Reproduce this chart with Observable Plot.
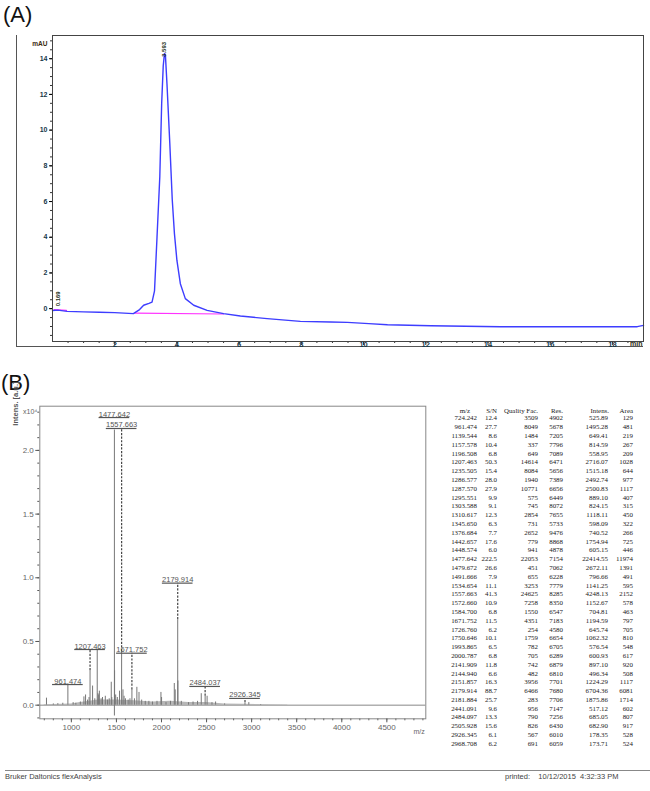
<!DOCTYPE html>
<html>
<head>
<meta charset="utf-8">
<script src="https://cdn.jsdelivr.net/npm/d3@7"></script>
<script src="https://cdn.jsdelivr.net/npm/@observablehq/plot@0.6"></script>
<style>
  html, body { margin: 0; padding: 0; background: #fff; }
  #page { position: relative; width: 650px; height: 791px; overflow: hidden; font-family: "Liberation Sans", Arial, sans-serif; }
  .abs { position: absolute; }
  .panel { font-size: 22px; color: #111; line-height: 1; }
  .tcol { position: absolute; font-family: "Liberation Serif", "Times New Roman", serif; font-size: 6.9px; color: #222; text-align: right; white-space: nowrap; }
  .foot { font-size: 7.5px; color: #444; white-space: nowrap; }
</style>
</head>
<body>
<div id="page"></div>
<script>
// ---------- Panel A: HPLC chromatogram ----------
const chromTime = [0, 0.17, 0.47, 1.0, 1.5, 2.0, 2.6, 2.8, 2.93, 3.1, 3.2, 3.28, 3.36, 3.45, 3.51, 3.56, 3.6, 3.63, 3.68, 3.77, 3.85, 3.92, 4.0, 4.11, 4.27, 4.54, 4.97, 5.5, 6.04, 6.9, 7.97, 8.94, 9.48, 10.17, 10.77, 12.16, 14.4, 16.0, 18.8, 19.0];
const chromAbs  = [-0.1, -0.08, -0.15, -0.18, -0.2, -0.22, -0.28, -0.05, 0.19, 0.3, 0.37, 1.0, 4.0, 7.4, 11.5, 13.6, 14.3, 14.2, 12.6, 9.3, 6.1, 4.2, 2.7, 1.4, 0.56, 0.19, -0.1, -0.28, -0.41, -0.56, -0.71, -0.75, -0.77, -0.84, -0.9, -0.96, -1.01, -1.01, -1.01, -0.94];
const baseTime = [2.65, 5.5];
const baseAbs  = [-0.25, -0.3];
const base0Time = [0.05, 0.45];
const base0Abs  = [-0.05, -0.1];
const peakTimesA = [0.169, 3.593];
const peakLabelsA = ["0.169", "3.593"];
const peakLabelAbs = [0.13, 14.1];
const yTicksA = [0, 2, 4, 6, 8, 10, 12, 14];
const xTicksA = [2, 4, 6, 8, 10, 12, 14, 16, 18];

// ---------- Panel B: MALDI spectrum ----------
const specMz = [724, 800, 850, 905, 961.5, 1020, 1050, 1100, 1139.5, 1157.6, 1180, 1196.5, 1207.5, 1235.5, 1260, 1287, 1295.6, 1303.6, 1310.6, 1330, 1345.7, 1376.7, 1400, 1420, 1442.7, 1448.6, 1477.6, 1479.7, 1491.7, 1510, 1534.7, 1557.7, 1572.7, 1584.7, 1600, 1630, 1650, 1671.8, 1700, 1726.8, 1750.6, 1780, 1820, 1860, 1900, 1950, 1993.9, 2000.8, 2050, 2100, 2141.9, 2151.9, 2179.9, 2181.9, 2220, 2300, 2350, 2400, 2441.1, 2484.1, 2505.9, 2560, 2600, 2700, 2926.3, 2968.7, 3100];
const specInt = [0.055, 0.01, 0.012, 0.015, 0.155, 0.02, 0.015, 0.025, 0.065, 0.08, 0.04, 0.06, 0.27, 0.15, 0.05, 0.44, 0.09, 0.08, 0.11, 0.05, 0.06, 0.07, 0.04, 0.05, 0.18, 0.06, 2.16, 0.27, 0.08, 0.06, 0.11, 0.42, 0.12, 0.07, 0.05, 0.04, 0.05, 0.12, 0.05, 0.14, 0.10, 0.04, 0.03, 0.03, 0.025, 0.03, 0.10, 0.06, 0.02, 0.03, 0.17, 0.12, 0.67, 0.19, 0.03, 0.02, 0.025, 0.03, 0.09, 0.07, 0.07, 0.02, 0.025, 0.01, 0.02, 0.02, 0.005];
const floorMz  = [700, 1000, 1100, 1200, 1300, 1500, 1700, 1900, 2100, 2300, 2500, 2700, 2900, 3200, 3400];
const floorInt = [0.004, 0.01, 0.02, 0.03, 0.04, 0.04, 0.035, 0.025, 0.03, 0.02, 0.02, 0.01, 0.008, 0.003, 0.002];
const dipMz = [1477.6];
const dipInt = [-0.085];
const labelMz   = [961.474, 1207.463, 1477.642, 1557.663, 1671.752, 2179.914, 2484.037, 2926.345];
const labelText = ["961.474", "1207.463", "1477.642", "1557.663", "1671.752", "2179.914", "2484.037", "2926.345"];
const labelLevel = [0.162, 0.437, 2.258, 2.172, 0.408, 0.958, 0.147, 0.053];
const labelPeakTop = [0.155, 0.27, 2.258, 0.42, 0.12, 0.67, 0.07, 0.02];
const yTicksB = [0, 0.5, 1.0, 1.5, 2.0];
const xTicksB = [1000, 1500, 2000, 2500, 3000, 3500, 4000, 4500];

// ---------- Peak table ----------
const tblMz = ["724.242","961.474","1139.544","1157.578","1196.508","1207.463","1235.505","1286.577","1287.570","1295.551","1303.588","1310.617","1345.650","1376.684","1442.657","1448.574","1477.642","1479.672","1491.666","1534.654","1557.663","1572.660","1584.700","1671.752","1726.760","1750.646","1993.865","2000.787","2141.909","2144.940","2151.857","2179.914","2181.884","2441.091","2484.097","2505.928","2926.345","2968.708"];
const tblSN = ["12.4","27.7","8.6","10.4","6.8","50.3","15.4","28.0","27.9","9.9","9.1","12.3","6.3","7.7","17.6","6.0","222.5","26.6","7.9","11.1","41.3","10.9","6.8","11.5","6.2","10.1","6.5","6.8","11.8","6.6","16.3","88.7","25.7","9.6","13.3","15.6","6.1","6.2"];
const tblQF = ["3509","8049","1484","337","649","14614","8084","1940","10771","575","745","2854","731","2652","779","941","22053","451","655","3253","24625","7258","1550","4351","254","1759","782","705","742","482","3956","6466","283","956","790","826","567","691"];
const tblRes = ["4902","5678","7205","7796","7089","6471","5656","7389","6656","6449","8072","7655","5733","9476","8868","4878","7154","7062","6228","7779","8285","8350","6547","7183","4580","6654","6705","6289","6879","6810","7701","7680","7706","7147","7256","6430","6010","6059"];
const tblInt = ["525.89","1495.28","649.41","814.59","558.95","2716.07","1515.18","2492.74","2500.83","889.10","824.15","1118.11","598.09","740.52","1754.94","605.15","22414.55","2672.11","796.66","1141.25","4248.13","1152.67","704.81","1194.59","645.74","1062.32","576.54","600.93","897.10","496.34","1224.29","6704.36","1875.86","517.12","685.05","682.90","178.35","173.71"];
const tblArea = ["129","481","219","267","209","1028","644","977","1117","407","315","450","322","266","725","446","11974","1391","491","595","2152","578","463","797","705","810","548","617","920","508","1117","6081","1714","602","807","917","528","524"];
const tblHeaders = ["m/z", "S/N", "Quality Fac.", "Res.", "Intens.", "Area"];

const page = document.getElementById("page");
function addDiv(cls, html, style) {
  const d = document.createElement("div");
  d.className = cls; d.innerHTML = html;
  Object.assign(d.style, style);
  page.appendChild(d);
  return d;
}

// Panel letters
addDiv("abs panel", "(A)", {left: "3px", top: "4px"});
addDiv("abs panel", "(B)", {left: "1px", top: "372px"});

// ----- Plot A -----
const chromData = chromTime.map((t, i) => ({t, a: chromAbs[i]}));
const baseData = baseTime.map((t, i) => ({t, a: baseAbs[i]}));
const base0Data = base0Time.map((t, i) => ({t, a: base0Abs[i]}));
const peakA = peakTimesA.map((t, i) => ({t, label: peakLabelsA[i], a: peakLabelAbs[i]}));
const tickFill = "#173848";

const plotA = Plot.plot({
  width: 627, height: 312,
  marginLeft: 36, marginRight: 0, marginTop: 0, marginBottom: 6,
  x: {domain: [0, 19], label: null},
  y: {domain: [-1.84, 15.3], label: null},
  style: {overflow: "visible", background: "transparent", fontFamily: "Liberation Sans, Arial, sans-serif"},
  marks: [
    Plot.axisY({ticks: d3.range(-1.5, 15.01, 0.5), tickSize: 2, text: null, stroke: "#333", label: null}),
    Plot.axisY({ticks: yTicksA, tickSize: 3, tickPadding: 2, fontSize: 7, fontWeight: "bold", fill: tickFill, label: null, tickFormat: d => String(d)}),
    Plot.axisX({ticks: d3.range(0.5, 19, 0.5), tickSize: 2, text: null, stroke: "#333", label: null}),
    Plot.axisX({ticks: xTicksA, tickSize: 4, text: null, stroke: "#333", label: null}),
    Plot.axisX({ticks: xTicksA, tickSize: 0, tickPadding: 0.5, fontSize: 7.5, fontWeight: "bold", fill: tickFill, label: null, tickFormat: d => String(d)}),
    Plot.line(base0Data, {x: "t", y: "a", stroke: "#ff33ff", strokeWidth: 1.2}),
    Plot.line(baseData, {x: "t", y: "a", stroke: "#ff33ff", strokeWidth: 1.2}),
    Plot.line(chromData, {x: "t", y: "a", stroke: "#3d3dff", strokeWidth: 1.4}),
    Plot.text(peakA, {x: "t", y: "a", text: "label", rotate: -90, textAnchor: "start", fontSize: 6, fontWeight: "bold", fill: "#243018"}),
    Plot.text(["mAU"], {frameAnchor: "top-left", dx: -5, dy: 6, textAnchor: "end", fontSize: 6.5, fontWeight: "bold", fill: "#3a2a10"}),
    Plot.text(["min"], {frameAnchor: "bottom-right", dx: -1, dy: 4.5, textAnchor: "end", fontSize: 7, fontWeight: "bold", fill: "#2a2a10"}),
    Plot.frame({stroke: "#444", strokeWidth: 1})
  ]
});
const wrapA = addDiv("abs", "", {left: "16px", top: "35px", width: "627px", height: "312px", boxSizing: "border-box", borderLeft: "1.5px solid #555", borderBottom: "1.5px solid #555"});
const holdA = addDiv("abs", "", {left: "16px", top: "35px"});
holdA.appendChild(plotA);

// ----- Plot B -----
const spec = specMz.map((m, i) => ({m, h: specInt[i]}));
const floor = floorMz.map((m, i) => ({m, h: floorInt[i]}));
const dips = dipMz.map((m, i) => ({m, h: dipInt[i]}));
const labs = labelMz.map((m, i) => ({m, text: labelText[i], y: labelLevel[i], top: labelPeakTop[i]}));
const leaders = labs.filter(d => d.y - d.top > 0.02);
const grey = "#777";

const plotB = Plot.plot({
  width: 427, height: 340,
  marginLeft: 39.3, marginRight: 1.7, marginTop: 5.7, marginBottom: 21.7,
  x: {domain: [650, 4932], label: null},
  y: {domain: [-0.107, 2.347], label: null},
  style: {overflow: "visible", background: "transparent", fontFamily: "Liberation Sans, Arial, sans-serif"},
  marks: [
    Plot.axisY({ticks: d3.range(-0.1, 2.31, 0.1), tickSize: 2, text: null, stroke: "#555", label: null}),
    Plot.axisY({ticks: yTicksB, tickSize: 4, tickPadding: 2, fontSize: 8, fill: "#666", tickFormat: d3.format(".1f"), label: null, stroke: "#555"}),
    Plot.axisX({ticks: d3.range(700, 4901, 100), tickSize: 2, text: null, stroke: "#555", label: null}),
    Plot.axisX({ticks: xTicksB, tickSize: 4, tickPadding: 2, fontSize: 8, fill: "#666", label: null, tickFormat: d => String(d), stroke: "#555"}),
    Plot.ruleY([0], {stroke: "#888", strokeWidth: 1}),
    Plot.areaY(floor, {x: "m", y: "h", fill: "#999", fillOpacity: 0.7, curve: "linear"}),
    Plot.ruleX(dips, {x: "m", y1: 0, y2: "h", stroke: grey, strokeWidth: 1}),
    Plot.ruleX(spec, {x: "m", y1: 0, y2: "h", stroke: grey, strokeWidth: 1}),
    Plot.ruleX(leaders, {x: "m", y1: "top", y2: "y", stroke: "#444", strokeWidth: 1.2, strokeDasharray: "2.2,1.4"}),
    Plot.ruleY(labs, {y: "y", x1: d => d.m - 170, x2: d => d.m + 170, stroke: "#555", strokeWidth: 1.2}),
    Plot.text(labs, {x: "m", y: "y", text: "text", lineAnchor: "bottom", dy: -1, fontSize: 7.5, fill: "#555"}),
    Plot.text(["Intens. [a.u.]"], {frameAnchor: "top-left", dx: -27.5, dy: 19.5, rotate: -90, fontSize: 7.5, fontWeight: "bold", fill: "#555"}),
    Plot.text(["x10\u2074"], {frameAnchor: "top-left", dx: -2.5, dy: 3, textAnchor: "end", fontSize: 7, fill: "#666"}),
    Plot.text(["m/z"], {frameAnchor: "bottom-right", dx: -1, dy: 15, textAnchor: "end", fontSize: 7, fill: "#666"}),
    Plot.frame({stroke: "#888", strokeWidth: 1})
  ]
});
const holdB = addDiv("abs", "", {left: "0px", top: "400px"});
holdB.appendChild(plotB);

// ----- Peak table (text) -----
const cols = [
  {vals: tblMz,   right: 477},
  {vals: tblSN,   right: 497},
  {vals: tblQF,   right: 538},
  {vals: tblRes,  right: 563},
  {vals: tblInt,  right: 608},
  {vals: tblArea, right: 633}
];
const headRight = [470, 497, 538, 563, 609, 633];
const rowH = 8.8, headY = 410;
tblHeaders.forEach((h, j) => {
  addDiv("tcol", h, {right: (650 - headRight[j]) + "px", top: (headY - 4.5) + "px", lineHeight: "9px"});
});
cols.forEach(c => {
  addDiv("tcol", c.vals.join("<br>"), {right: (650 - c.right) + "px", top: (headY + rowH - 4.4) + "px", lineHeight: rowH + "px"});
});

// ----- Footer -----
addDiv("abs", "", {left: "5px", top: "769.5px", width: "645px", height: "0", borderTop: "1.5px solid #888"});
addDiv("abs foot", "Bruker Daltonics flexAnalysis", {left: "5px", top: "772px"});
addDiv("abs foot", "printed:&nbsp;&nbsp;&nbsp;&nbsp;10/12/2015&nbsp;&nbsp;4:32:33 PM", {left: "505px", top: "772px"});
</script>
</body>
</html>
